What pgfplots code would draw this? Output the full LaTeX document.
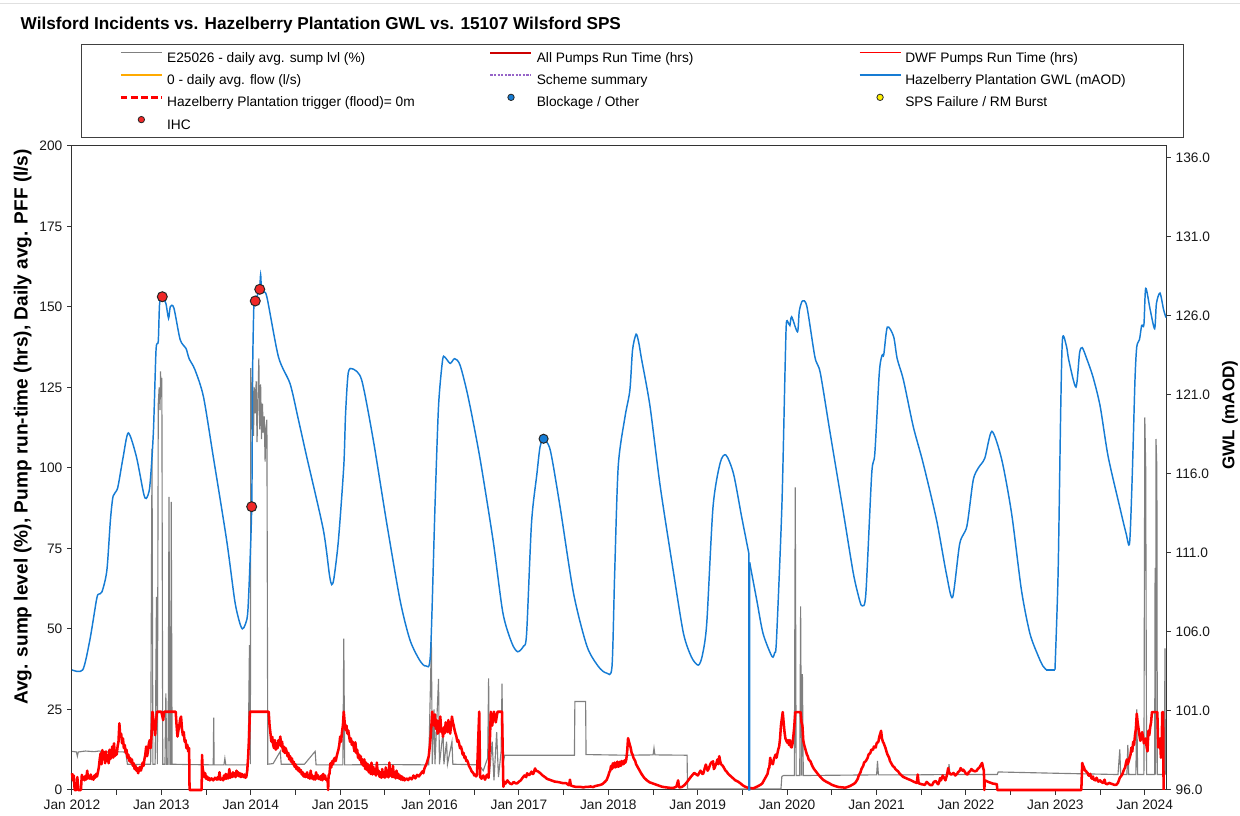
\documentclass[border=0pt]{standalone}
\usepackage{fontspec}
\setmainfont{Liberation Sans}
\usepackage{pgfplots}
\pgfplotsset{compat=1.18}

\definecolor{gwlblue}{RGB}{22,124,212}
\definecolor{sumpgrey}{RGB}{128,128,128}
\definecolor{pumpred}{RGB}{255,0,0}
\definecolor{allred}{RGB}{205,0,0}
\definecolor{floworange}{RGB}{255,170,0}
\definecolor{schemepurple}{RGB}{150,100,200}
\definecolor{ihcred}{RGB}{240,40,40}
\definecolor{spsyellow}{RGB}{255,240,0}

% legend samples: 41px line, 4px gap (1px = 0.75pt)
\pgfplotsset{
  lineleg/.style={legend image code/.code={%
      \draw[##1] (0pt,3.6pt) -- (30.75pt,3.6pt);
      \path (33.75pt,3.6pt);}},
  markleg/.style={legend image code/.code={%
      \path (0pt,3.6pt) (33.75pt,3.6pt);
      \draw[##1] plot coordinates {(15.4pt,3.6pt)};}},
  tlab/.style={font=\fontsize{10.3}{12}\selectfont},
}
\newcommand{\cola}[1]{\makebox[241.5pt][l]{#1}}
\newcommand{\colc}[1]{\makebox[180pt][l]{#1}}

\begin{document}
\begin{tikzpicture}
\path[use as bounding box] (-54pt,-19.5pt) rectangle (876pt,592.5pt);
\draw[black!12, line width=0.75pt] (-54pt,589.5pt) -- (876pt,589.5pt);

\begin{axis}[
  at={(0pt,0pt)}, anchor=south west,
  scale only axis, width=820.5pt, height=483pt,
  xmin=2012, xmax=2024.237, ymin=0, ymax=200,
  xtick={2012,...,2024},
  xticklabels={Jan 2012,Jan 2013,Jan 2014,Jan 2015,Jan 2016,Jan 2017,Jan 2018,Jan 2019,Jan 2020,Jan 2021,Jan 2022,Jan 2023,Jan 2024},
  minor xtick={2012.5,2013.5,...,2023.5},
  ytick={0,25,...,200},
  xtick pos=bottom, ytick pos=left,
  tick align=outside, major tick length=3.75pt, minor tick length=3.75pt,
  tick style={black!80, line width=0.75pt},
  axis line style={black!80, line width=0.75pt},
  tick label style={tlab, text=black!90},
  /pgf/number format/assume math mode=true,
  clip=false,
  legend columns=3,
  legend style={at={(0.00823,1.1584)}, anchor=north west,
    draw=black!75, line width=0.75pt, fill=white,
    inner xsep=28.5pt, inner ysep=1.5pt,
    font=\fontsize{10.3}{12}\selectfont,
    column sep=0pt, row sep=0pt,
    nodes={inner sep=0pt, text height=11.95pt, text depth=4.75pt}},
]
\addlegendimage{lineleg, sumpgrey, line width=0.75pt}
\addlegendentry{\cola{E25026 - daily avg. sump lvl (\%)}}
\addlegendimage{lineleg, allred, line width=1.9pt}
\addlegendentry{\cola{All Pumps Run Time (hrs)}}
\addlegendimage{lineleg, pumpred, line width=0.8pt}
\addlegendentry{\colc{DWF Pumps Run Time (hrs)}}
\addlegendimage{lineleg, floworange, line width=1.6pt}
\addlegendentry{\cola{0 - daily avg. flow (l/s)}}
\addlegendimage{lineleg, schemepurple, line width=2pt, dash pattern=on 1.6pt off 1.1pt}
\addlegendentry{\cola{Scheme summary}}
\addlegendimage{lineleg, gwlblue, line width=1.1pt}
\addlegendentry{\colc{Hazelberry Plantation GWL (mAOD)}}
\addlegendimage{lineleg, pumpred, line width=2pt, dash pattern=on 5pt off 2.6pt}
\addlegendentry{\cola{Hazelberry Plantation trigger (flood)= 0m}}
\addlegendimage{markleg, only marks, mark=*, mark size=2.4pt, mark options={fill=gwlblue, draw=black!85, line width=0.6pt}}
\addlegendentry{\cola{Blockage / Other}}
\addlegendimage{markleg, only marks, mark=*, mark size=2.4pt, mark options={fill=spsyellow, draw=black!85, line width=0.6pt}}
\addlegendentry{\colc{SPS Failure / RM Burst}}
\addlegendimage{markleg, only marks, mark=*, mark size=2.4pt, mark options={fill=ihcred, draw=black!85, line width=0.6pt}}
\addlegendentry{\cola{IHC}}

% E25026 daily avg. sump level (%)
\addplot[sumpgrey, line width=0.85pt, forget plot] coordinates {
(2012.00,12.0) (2012.05,11.8) (2012.06,10.5) (2012.07,11.8) (2012.15,12.1) (2012.25,11.9)
(2012.30,12.1) (2012.40,11.8) (2012.45,12.5) (2012.46,11.9) (2012.60,11.8) (2012.62,8.0)
(2012.70,7.9) (2012.80,8.0) (2012.88,8.0) (2012.895,106) (2012.905,8.0) (2012.93,8.0)
(2012.945,60) (2012.955,8.0) (2012.965,120) (2012.975,125) (2012.985,118) (2012.99,130)
(2013.00,122) (2013.005,128) (2013.015,8.0) (2013.04,8.0) (2013.05,30) (2013.06,8.0)
(2013.075,8.0) (2013.085,91) (2013.095,8.0) (2013.105,8.0) (2013.11,89.5) (2013.12,8.0)
(2013.30,7.9) (2013.58,7.8) (2013.585,22.5) (2013.59,7.8) (2013.70,7.8) (2013.71,9.8)
(2013.72,7.8) (2013.97,7.8) (2013.985,45) (2013.995,8.0) (2014.00,131) (2014.01,112)
(2014.02,127) (2014.03,110) (2014.04,125) (2014.05,117) (2014.06,127) (2014.07,108)
(2014.08,122) (2014.09,134) (2014.10,112) (2014.11,126) (2014.12,109) (2014.13,120)
(2014.14,111) (2014.15,116) (2014.16,102) (2014.17,113) (2014.18,115) (2014.19,8.0)
(2014.25,8.2) (2014.33,12.0) (2014.34,8.0) (2014.60,8.0) (2014.72,12.0) (2014.73,7.8)
(2015.03,7.8) (2015.04,47) (2015.05,7.8) (2015.50,7.9) (2015.99,7.8) (2016.02,46)
(2016.03,8.0) (2016.05,25) (2016.06,8.0) (2016.10,34.5) (2016.11,8.0) (2016.15,18)
(2016.16,8.0) (2016.19,15) (2016.20,8.0) (2016.25,15) (2016.26,8.0) (2016.55,7.8)
(2016.60,6.0) (2016.65,10) (2016.66,34.7) (2016.67,5.0) (2016.70,15) (2016.72,3.0)
(2016.75,18) (2016.77,4.0) (2016.80,12) (2016.81,33) (2016.82,8.0) (2016.84,10.8)
(2017.20,10.8) (2017.62,10.8) (2017.625,27.5) (2017.745,27.5) (2017.75,11.0) (2018.20,10.8)
(2018.50,10.9) (2018.51,13.0) (2018.52,10.9) (2018.88,10.8) (2018.885,0.3) (2019.93,0.3)
(2019.94,4.2) (2019.96,4.5) (2020.08,4.5) (2020.09,94) (2020.10,4.5) (2020.14,4.5)
(2020.15,57) (2020.16,4.5) (2020.17,36) (2020.18,4.5) (2020.60,4.6) (2021.00,4.7)
(2021.01,9.0) (2021.02,4.7) (2021.45,4.7) (2021.80,4.8) (2021.81,8.0) (2021.82,4.8)
(2022.35,4.8) (2022.36,5.6) (2023.00,5.2) (2023.70,4.8) (2023.72,12.6) (2023.73,4.8)
(2023.80,4.8) (2023.81,14.0) (2023.82,4.8) (2023.90,4.8) (2023.91,25) (2023.92,4.8)
(2023.99,4.8) (2024.00,115.7) (2024.01,100) (2024.02,4.8) (2024.11,4.8) (2024.115,69)
(2024.12,4.8) (2024.125,109) (2024.135,100) (2024.14,4.8) (2024.22,4.8) (2024.225,44)
(2024.23,4.8)
};

% All pumps run time (hrs)
\addplot[pumpred, line width=1.9pt, line join=round, forget plot] coordinates {
(2012.00,5.2) (2012.01,3.0) (2012.02,4.5) (2012.03,0) (2012.05,0) (2012.06,4.0) (2012.07,0)
(2012.10,0) (2012.11,4.7) (2012.12,3.2) (2012.13,4.0) (2012.14,3.0) (2012.15,4.4) (2012.16,3.3)
(2012.17,6.0) (2012.18,3.6) (2012.19,4.3) (2012.20,3.5) (2012.21,4.8) (2012.22,3.4) (2012.23,4.0)
(2012.24,3.2) (2012.25,4.5) (2012.26,3.8) (2012.27,5.0) (2012.28,4.2) (2012.29,5.5) (2012.30,7.0)
(2012.31,9.5) (2012.32,11.4) (2012.33,8.0) (2012.34,12.4) (2012.35,9.5) (2012.36,11.8) (2012.37,8.3)
(2012.38,12.0) (2012.39,9.0) (2012.40,10.5) (2012.41,8.3) (2012.42,12.5) (2012.43,9.6) (2012.44,11.0)
(2012.45,13.5) (2012.46,10.0) (2012.47,14.5) (2012.48,10.5) (2012.49,12.0) (2012.50,11.0) (2012.51,13.5)
(2012.52,15.0) (2012.53,20.7) (2012.54,16.5) (2012.55,17.5) (2012.56,14.5) (2012.57,16.0) (2012.58,13.0)
(2012.59,14.0) (2012.60,11.5) (2012.61,12.5) (2012.62,10.0) (2012.63,11.0) (2012.64,9.0) (2012.65,10.0)
(2012.66,8.5) (2012.67,9.5) (2012.68,7.5) (2012.69,8.3) (2012.70,6.5) (2012.71,7.5) (2012.72,6.0)
(2012.73,6.8) (2012.74,5.2) (2012.75,6.5) (2012.76,7.2) (2012.77,6.0) (2012.78,7.0) (2012.79,8.5)
(2012.80,7.5) (2012.81,9.5) (2012.82,11.0) (2012.83,13.5) (2012.84,10.5) (2012.85,12.0) (2012.86,14.5)
(2012.87,15.5) (2012.88,13.0) (2012.89,17.0) (2012.90,24.3) (2012.91,22.0) (2012.92,20.7) (2012.93,17.0)
(2012.94,21.0) (2012.95,24.3) (2013.00,24.3) (2013.02,21.7) (2013.03,24.3) (2013.16,24.3)
(2013.17,20.0) (2013.18,16.6) (2013.19,18.5) (2013.20,20.0) (2013.21,22.0) (2013.22,22.8) (2013.23,19.0)
(2013.24,17.0) (2013.25,18.0) (2013.26,15.0) (2013.27,15.5) (2013.28,13.0) (2013.29,14.0) (2013.30,12.0)
(2013.31,13.0) (2013.315,0) (2013.45,0) (2013.455,10.9) (2013.46,7.0) (2013.47,5.5) (2013.48,4.0)
(2013.49,5.2) (2013.50,3.5) (2013.51,4.2) (2013.52,3.2) (2013.53,3.8) (2013.54,3.0) (2013.56,3.6)
(2013.58,3.0) (2013.60,3.8) (2013.62,3.2) (2013.63,4.0) (2013.64,3.3) (2013.65,5.5) (2013.66,3.2)
(2013.68,3.6) (2013.69,3.0) (2013.70,4.5) (2013.71,3.4) (2013.72,5.0) (2013.73,3.5) (2013.74,4.8)
(2013.75,3.6) (2013.76,6.5) (2013.77,3.8) (2013.78,5.0) (2013.79,4.0) (2013.80,5.5) (2013.81,4.2)
(2013.82,5.2) (2013.83,4.0) (2013.84,6.0) (2013.85,4.5) (2013.86,5.5) (2013.87,4.2) (2013.88,5.2)
(2013.89,4.0) (2013.90,5.0) (2013.91,4.5) (2013.92,4.0) (2013.93,4.8) (2013.94,3.8) (2013.95,4.1)
(2013.96,6.0) (2013.97,10.0) (2013.98,16.0) (2013.99,24.3) (2014.20,24.3) (2014.21,20.0) (2014.22,17.6)
(2014.23,15.0) (2014.24,16.5) (2014.25,14.0) (2014.26,13.0) (2014.27,15.5) (2014.28,12.5) (2014.29,14.5)
(2014.30,13.0) (2014.31,15.5) (2014.32,14.0) (2014.33,16.6) (2014.34,13.5) (2014.35,15.0) (2014.36,12.0)
(2014.37,13.5) (2014.38,11.5) (2014.39,13.0) (2014.40,12.0) (2014.41,10.5) (2014.42,11.5) (2014.43,9.5)
(2014.44,10.5) (2014.45,8.8) (2014.46,9.8) (2014.47,8.0) (2014.48,8.8) (2014.49,7.2) (2014.50,8.0)
(2014.51,6.5) (2014.52,7.2) (2014.53,6.0) (2014.54,6.8) (2014.55,5.5) (2014.56,6.2) (2014.57,4.8)
(2014.58,5.5) (2014.59,4.2) (2014.60,5.0) (2014.61,4.0) (2014.62,4.6) (2014.63,5.5) (2014.64,3.8)
(2014.65,4.5) (2014.66,3.5) (2014.67,6.0) (2014.68,3.6) (2014.69,4.5) (2014.70,3.3) (2014.71,4.2)
(2014.72,3.2) (2014.73,5.5) (2014.74,3.6) (2014.75,4.6) (2014.76,3.4) (2014.77,4.1) (2014.78,3.2)
(2014.79,4.5) (2014.80,3.0) (2014.81,5.0) (2014.82,3.5) (2014.83,4.5) (2014.84,3.2) (2014.85,3.1)
(2014.86,2.8) (2014.865,0) (2014.87,4.5) (2014.88,5.0) (2014.89,8.3) (2014.90,7.0) (2014.91,9.0)
(2014.92,8.0) (2014.93,9.5) (2014.94,10.0) (2014.95,9.0) (2014.96,10.4) (2014.97,11.5) (2014.98,12.5)
(2014.99,14.0) (2015.00,16.6) (2015.01,15.0) (2015.02,18.0) (2015.03,20.0) (2015.04,24.3) (2015.05,21.0)
(2015.06,18.6) (2015.07,20.0) (2015.08,17.5) (2015.09,18.5) (2015.10,16.6) (2015.11,15.0) (2015.12,16.0)
(2015.13,14.0) (2015.14,15.0) (2015.15,13.5) (2015.16,12.0) (2015.17,14.8) (2015.18,11.5) (2015.19,12.5)
(2015.20,10.0) (2015.21,11.0) (2015.22,9.3) (2015.23,10.5) (2015.24,8.0) (2015.25,9.5) (2015.26,7.5)
(2015.27,9.5) (2015.28,6.5) (2015.29,8.5) (2015.30,6.2) (2015.31,8.0) (2015.32,5.5) (2015.33,7.5)
(2015.34,5.0) (2015.35,8.5) (2015.36,4.8) (2015.37,7.2) (2015.38,5.0) (2015.39,6.5) (2015.40,4.5)
(2015.41,8.5) (2015.42,5.0) (2015.43,6.0) (2015.44,4.1) (2015.45,5.5) (2015.46,3.8) (2015.47,6.5)
(2015.48,4.0) (2015.49,5.5) (2015.50,3.8) (2015.51,7.0) (2015.52,4.2) (2015.53,6.0) (2015.54,3.9)
(2015.55,8.5) (2015.56,4.5) (2015.57,6.2) (2015.58,4.0) (2015.59,7.5) (2015.60,4.0) (2015.61,5.5)
(2015.62,3.6) (2015.63,6.0) (2015.64,3.8) (2015.65,5.0) (2015.66,3.5) (2015.67,4.5) (2015.68,3.2)
(2015.69,4.2) (2015.70,3.1) (2015.71,3.8) (2015.72,3.0) (2015.74,3.6) (2015.76,3.1) (2015.78,3.8)
(2015.80,3.3) (2015.82,4.5) (2015.84,3.6) (2015.86,4.7) (2015.88,4.2) (2015.90,5.0) (2015.92,5.8)
(2015.93,5.2) (2015.94,6.5) (2015.95,7.2) (2015.96,7.8) (2015.97,8.5) (2015.98,9.5) (2015.99,10.4)
(2016.00,13.0) (2016.01,16.0) (2016.02,20.0) (2016.03,24.3) (2016.04,21.0) (2016.05,20.0) (2016.06,23.5)
(2016.07,19.0) (2016.08,21.7) (2016.09,17.5) (2016.10,18.0) (2016.11,21.0) (2016.12,22.8) (2016.13,18.0)
(2016.14,19.0) (2016.15,16.5) (2016.16,19.5) (2016.17,17.6) (2016.18,21.0) (2016.19,20.5) (2016.20,18.0)
(2016.21,21.7) (2016.22,19.0) (2016.23,17.5) (2016.24,20.0) (2016.25,22.8) (2016.26,21.0) (2016.27,20.0)
(2016.28,18.5) (2016.29,17.5) (2016.30,16.6) (2016.31,15.0) (2016.32,15.5) (2016.33,14.5) (2016.34,13.0)
(2016.35,13.5) (2016.36,12.5) (2016.37,11.0) (2016.38,11.5) (2016.39,10.0) (2016.40,10.4) (2016.41,9.0)
(2016.42,9.2) (2016.43,8.5) (2016.44,7.5) (2016.45,7.0) (2016.46,6.5) (2016.47,5.8) (2016.48,5.5)
(2016.49,5.2) (2016.50,4.5) (2016.51,4.8) (2016.52,4.2) (2016.53,4.7) (2016.555,24.3) (2016.565,4.1)
(2016.58,3.5) (2016.60,4.5) (2016.62,3.2) (2016.64,4.7) (2016.66,3.8) (2016.685,24.3) (2016.70,20.0)
(2016.72,24.3) (2016.74,21.0) (2016.76,24.3) (2016.81,24.3) (2016.825,1.0) (2016.84,2.5) (2016.85,2.0)
(2016.87,3.0) (2016.88,2.6) (2016.90,2.0) (2016.92,1.8) (2016.94,2.5) (2016.95,2.3) (2016.97,2.0)
(2016.98,2.1) (2017.00,2.6) (2017.02,3.0) (2017.04,3.8) (2017.06,4.5) (2017.08,4.0) (2017.09,5.2)
(2017.11,4.6) (2017.12,4.8) (2017.14,5.7) (2017.15,5.0) (2017.16,5.0) (2017.18,6.7) (2017.19,6.0)
(2017.21,5.8) (2017.23,5.4) (2017.24,5.2) (2017.26,4.6) (2017.28,4.2) (2017.30,3.8) (2017.31,3.5)
(2017.33,3.3) (2017.35,3.1) (2017.38,2.8) (2017.40,2.6) (2017.43,2.5) (2017.45,2.4) (2017.48,2.2)
(2017.50,2.1) (2017.53,2.1) (2017.55,1.6) (2017.56,1.5) (2017.57,3.2) (2017.58,1.4) (2017.60,1.2)
(2017.63,1.0) (2017.65,1.0) (2017.68,1.0) (2017.70,0.9) (2017.72,0.8) (2017.75,1.0) (2017.78,1.0)
(2017.80,1.1) (2017.83,0.9) (2017.85,1.2) (2017.88,1.4) (2017.90,1.5) (2017.91,1.6) (2017.93,1.8)
(2017.94,2.0) (2017.96,2.5) (2017.98,3.1) (2018.00,4.5) (2018.01,5.5) (2018.02,6.0) (2018.03,7.5)
(2018.04,6.5) (2018.05,8.3) (2018.06,7.0) (2018.07,8.5) (2018.08,7.0) (2018.09,8.0) (2018.10,8.8)
(2018.11,7.2) (2018.12,7.5) (2018.13,8.8) (2018.14,7.5) (2018.15,9.0) (2018.16,8.0) (2018.17,8.0)
(2018.18,9.2) (2018.19,8.5) (2018.20,9.5) (2018.21,12.0) (2018.22,16.1) (2018.23,15.0) (2018.24,14.0)
(2018.25,13.0) (2018.26,11.5) (2018.27,11.0) (2018.28,10.0) (2018.30,9.0) (2018.31,8.0) (2018.33,7.0)
(2018.34,6.5) (2018.36,5.5) (2018.37,5.0) (2018.40,3.8) (2018.43,3.0) (2018.46,2.4) (2018.49,2.1)
(2018.52,1.8) (2018.55,1.5) (2018.60,1.0) (2018.65,0.8) (2018.68,0.7) (2018.72,0.6) (2018.76,1.0)
(2018.78,3.0) (2018.79,0.8) (2018.82,0.9) (2018.85,1.5) (2018.88,2.5) (2018.92,4.0) (2018.96,5.3)
(2019.00,4.5) (2019.02,5.5) (2019.03,6.0) (2019.05,5.0) (2019.06,5.0) (2019.08,7.0) (2019.09,7.9)
(2019.11,6.0) (2019.12,6.5) (2019.14,8.0) (2019.15,8.5) (2019.17,8.9) (2019.18,6.5) (2019.19,7.0)
(2019.21,8.5) (2019.22,9.5) (2019.23,8.0) (2019.24,10.5) (2019.25,9.0) (2019.26,8.0) (2019.28,7.5)
(2019.29,7.0) (2019.31,6.0) (2019.32,5.8) (2019.34,5.0) (2019.36,4.5) (2019.38,4.0) (2019.40,3.5)
(2019.42,3.0) (2019.45,2.6) (2019.48,2.0) (2019.50,1.5) (2019.53,1.0) (2019.56,0.7) (2019.59,0.6)
(2019.62,0.5) (2019.66,1.0) (2019.68,1.3) (2019.70,1.6) (2019.72,2.0) (2019.73,2.5) (2019.75,3.5)
(2019.76,4.0) (2019.78,5.0) (2019.79,6.5) (2019.80,7.0) (2019.81,10.0) (2019.82,8.5) (2019.84,8.0)
(2019.85,9.5) (2019.87,11.0) (2019.88,10.0) (2019.90,12.6) (2019.91,13.5) (2019.92,16.0) (2019.93,20.0)
(2019.95,24.2) (2019.96,21.0) (2019.97,18.0) (2019.98,16.0) (2020.00,14.7) (2020.01,15.5) (2020.02,14.0)
(2020.03,15.5) (2020.04,13.5) (2020.05,13.2) (2020.06,14.5) (2020.07,17.0) (2020.08,20.0) (2020.09,24.2)
(2020.15,24.2) (2020.16,21.0) (2020.17,20.0) (2020.18,15.3) (2020.19,14.0) (2020.20,13.0) (2020.21,12.0)
(2020.22,11.0) (2020.23,10.5) (2020.24,9.5) (2020.26,8.9) (2020.28,7.5) (2020.30,6.5) (2020.32,5.8)
(2020.35,4.7) (2020.38,3.8) (2020.40,3.2) (2020.44,2.5) (2020.47,2.1) (2020.50,1.6) (2020.52,1.4)
(2020.55,1.1) (2020.58,0.9) (2020.62,0.8) (2020.65,0.7) (2020.68,1.0) (2020.70,1.2) (2020.72,1.5)
(2020.74,1.8) (2020.76,2.2) (2020.77,2.6) (2020.79,3.5) (2020.80,4.5) (2020.82,5.5) (2020.83,6.5)
(2020.85,7.5) (2020.86,8.5) (2020.88,9.0) (2020.90,10.0) (2020.91,11.0) (2020.93,11.5) (2020.94,12.5)
(2020.96,12.5) (2020.97,13.5) (2020.99,13.2) (2021.00,14.5) (2021.02,15.0) (2021.03,16.5) (2021.05,18.4)
(2021.06,16.0) (2021.07,15.0) (2021.08,14.5) (2021.10,13.0) (2021.11,12.0) (2021.12,11.1) (2021.14,10.0)
(2021.15,9.0) (2021.17,8.0) (2021.18,7.5) (2021.20,7.0) (2021.21,6.5) (2021.23,6.0) (2021.24,5.8)
(2021.26,5.0) (2021.28,4.5) (2021.30,4.0) (2021.32,3.8) (2021.35,3.4) (2021.37,3.2) (2021.40,2.8)
(2021.42,2.5) (2021.45,2.2) (2021.46,4.8) (2021.47,2.1) (2021.50,1.8) (2021.54,1.6) (2021.56,2.5)
(2021.58,2.0) (2021.60,1.5) (2021.62,1.5) (2021.64,2.5) (2021.66,2.8) (2021.68,2.0) (2021.69,1.8)
(2021.70,2.5) (2021.71,3.7) (2021.72,3.0) (2021.74,4.5) (2021.76,3.5) (2021.77,3.0) (2021.79,5.0)
(2021.80,6.8) (2021.81,5.5) (2021.83,4.8) (2021.85,5.0) (2021.86,5.3) (2021.88,4.5) (2021.90,5.0)
(2021.91,5.5) (2021.93,6.0) (2021.94,6.8) (2021.96,6.0) (2021.97,6.3) (2021.99,5.5) (2022.00,5.0)
(2022.02,4.8) (2022.03,5.5) (2022.05,6.0) (2022.06,6.5) (2022.08,6.0) (2022.10,5.8) (2022.12,6.0)
(2022.13,6.5) (2022.15,7.0) (2022.16,7.5) (2022.18,8.4) (2022.19,7.0) (2022.20,6.0) (2022.205,0)
(2022.21,3.0) (2022.25,2.5) (2022.30,2.0) (2022.345,1.8) (2022.35,0) (2023.29,0) (2023.30,8.4)
(2023.31,7.5) (2023.32,7.0) (2023.33,6.0) (2023.34,6.0) (2023.35,5.5) (2023.36,5.3) (2023.37,4.5)
(2023.38,4.5) (2023.39,5.0) (2023.40,3.8) (2023.41,3.5) (2023.42,4.2) (2023.43,3.2) (2023.45,3.0)
(2023.46,3.8) (2023.48,2.6) (2023.50,3.0) (2023.51,2.6) (2023.53,2.2) (2023.55,3.2) (2023.56,2.0)
(2023.58,1.8) (2023.60,2.2) (2023.62,2.0) (2023.64,1.8) (2023.66,1.6) (2023.68,1.6) (2023.70,2.2)
(2023.71,3.0) (2023.72,3.8) (2023.74,4.5) (2023.75,5.0) (2023.76,5.8) (2023.77,6.5) (2023.78,7.0)
(2023.79,8.5) (2023.80,9.5) (2023.81,8.0) (2023.82,9.0) (2023.83,10.0) (2023.84,11.0) (2023.85,13.2)
(2023.86,12.0) (2023.87,15.0) (2023.88,14.0) (2023.89,17.0) (2023.90,19.0) (2023.91,23.7) (2023.92,21.0)
(2023.93,19.0) (2023.94,17.0) (2023.95,15.3) (2023.96,16.0) (2023.97,18.0) (2023.98,16.5) (2023.99,14.5)
(2024.00,15.0) (2024.01,16.0) (2024.02,13.5) (2024.03,12.0) (2024.04,18.4) (2024.05,17.0) (2024.06,19.5)
(2024.07,21.0) (2024.08,24.2) (2024.14,24.2) (2024.15,13.2) (2024.16,14.0) (2024.17,16.0) (2024.18,10.0)
(2024.19,16.0) (2024.195,24.2) (2024.205,24.2) (2024.21,0)
};
\end{axis}

\begin{axis}[
  at={(0pt,0pt)}, anchor=south west,
  scale only axis, width=820.5pt, height=483pt,
  xmin=2012, xmax=2024.237, ymin=96, ymax=136.76,
  axis x line=none, axis y line*=right,
  ytick={96,101,...,136},
  tick align=outside, major tick length=3.75pt,
  tick style={black!80, line width=0.75pt},
  axis line style={black!80, line width=0.75pt},
  tick label style={tlab, text=black!90},
  /pgf/number format/assume math mode=true,
  yticklabel style={/pgf/number format/.cd, fixed, fixed zerofill, precision=1},
  clip=false,
]
% Hazelberry Plantation GWL (mAOD), before the logger drop-out
\addplot[gwlblue, line width=1.1pt, smooth, tension=0.45] coordinates {
(2012.00,103.6) (2012.12,103.6) (2012.20,105.5) (2012.276,108.1) (2012.30,108.4) (2012.336,108.55)
(2012.39,109.9) (2012.43,113.1) (2012.46,114.6) (2012.51,115.1) (2012.57,117.0) (2012.63,118.6)
(2012.72,117.1) (2012.80,114.8) (2012.83,114.45) (2012.87,115.2) (2012.91,118.6) (2012.94,123.85)
(2012.965,124.4) (2012.98,126.8) (2013.01,127.2) (2013.05,126.8) (2013.08,125.85) (2013.10,126.6)
(2013.14,126.5) (2013.21,124.5) (2013.275,123.95) (2013.31,123.3) (2013.375,122.6) (2013.47,120.9)
(2013.58,117.1) (2013.73,111.8) (2013.82,108.0) (2013.87,106.7) (2013.905,106.2) (2013.94,106.5)
(2013.97,107.6) (2014.01,113.9) (2014.02,122.4) (2014.035,126.8) (2014.05,127.0) (2014.08,127.4)
(2014.10,127.8) (2014.11,128.6) (2014.12,127.65) (2014.14,127.5) (2014.18,127.2) (2014.31,123.4)
(2014.44,121.7) (2014.53,119.5) (2014.625,117.1) (2014.81,112.5) (2014.88,109.6) (2014.905,109.0)
(2014.93,109.4) (2014.98,111.8) (2015.04,116.5) (2015.06,119.8) (2015.09,122.4) (2015.14,122.65)
(2015.24,121.95) (2015.37,118.15) (2015.52,112.9) (2015.67,108.0) (2015.78,105.5) (2015.89,104.2)
(2015.96,103.85) (2016.01,104.65) (2016.06,113.9) (2016.10,120.3) (2016.145,123.2) (2016.17,123.4)
(2016.23,123.0) (2016.28,123.3) (2016.34,122.9) (2016.43,120.9) (2016.56,117.1) (2016.71,111.8)
(2016.82,107.2) (2016.92,105.3) (2016.985,104.75) (2017.05,105.1) (2017.085,105.9) (2017.14,112.9)
(2017.20,116.0) (2017.235,117.7) (2017.275,118.2) (2017.35,117.5) (2017.46,113.9) (2017.61,108.45)
(2017.76,105.1) (2017.89,103.8) (2017.98,103.4) (2018.04,103.8) (2018.07,109.7) (2018.11,116.5)
(2018.185,119.6) (2018.24,121.3) (2018.27,123.85) (2018.31,124.85) (2018.34,124.3) (2018.37,123.3)
(2018.465,120.3) (2018.58,115.2) (2018.73,109.7) (2018.84,105.9) (2018.93,104.4) (2019.005,103.9)
(2019.05,104.5) (2019.10,106.55) (2019.17,113.9) (2019.25,116.7) (2019.315,117.2) (2019.40,116.0)
(2019.49,113.3) (2019.57,111.0)
};
% drop-out to the bottom of the axis
\addplot[gwlblue, line width=1.1pt] coordinates {
(2019.57,111.0) (2019.571,96.0) (2019.58,96.0) (2019.581,110.4)
};
% after the drop-out
\addplot[gwlblue, line width=1.1pt, smooth, tension=0.45] coordinates {
(2019.581,110.4) (2019.59,110.1)
(2019.66,108.0) (2019.73,105.9) (2019.83,104.45) (2019.86,104.7) (2019.88,105.5) (2019.94,113.9)
(2019.975,122.4) (2019.99,125.5) (2020.01,125.6) (2020.03,125.4) (2020.05,125.95) (2020.115,125.0)
(2020.135,126.3) (2020.17,126.95) (2020.22,126.6) (2020.31,123.4) (2020.37,122.4) (2020.48,118.6)
(2020.63,113.5) (2020.74,109.7) (2020.81,108.0) (2020.84,107.65) (2020.88,108.45) (2020.945,116.0)
(2020.98,117.3) (2021.03,122.4) (2021.06,123.5) (2021.08,123.55) (2021.12,125.3) (2021.19,124.7)
(2021.23,123.3) (2021.30,121.95) (2021.41,119.0) (2021.52,116.7) (2021.67,113.1) (2021.78,109.7)
(2021.85,108.2) (2021.93,111.6) (2022.01,112.7) (2022.08,115.6) (2022.14,116.4) (2022.21,117.0)
(2022.29,118.7) (2022.40,116.9) (2022.51,113.5) (2022.62,108.65) (2022.715,105.9) (2022.81,104.45)
(2022.86,103.85) (2022.90,103.6)
};
\addplot[gwlblue, line width=1.1pt] coordinates {(2022.90,103.6) (2022.995,103.6)};
\addplot[gwlblue, line width=1.1pt, smooth, tension=0.45] coordinates {
(2022.995,103.6) (2023.03,109.7) (2023.06,120.3) (2023.08,124.6) (2023.125,124.05)
(2023.15,123.2) (2023.23,121.5) (2023.27,123.65) (2023.30,124.0) (2023.35,123.3) (2023.42,122.15)
(2023.50,120.3) (2023.59,117.1) (2023.72,113.9) (2023.79,112.25) (2023.83,111.65) (2023.86,116.0)
(2023.89,121.95) (2023.91,124.05) (2023.94,124.5) (2023.965,125.4) (2023.99,125.45) (2024.01,127.75)
(2024.06,126.4) (2024.11,125.2) (2024.13,126.8) (2024.17,127.45) (2024.21,126.4) (2024.237,125.9)
};
% IHC incidents
\addplot[only marks, mark=*, mark size=3.75pt, mark options={fill=ihcred, draw=black!85, line width=0.75pt}]
  coordinates {(2013.01,127.22) (2014.01,113.93) (2014.05,126.95) (2014.10,127.69)};
% Blockage / Other
\addplot[only marks, mark=*, mark size=3.4pt, mark options={fill=gwlblue, draw=black!85, line width=0.75pt}]
  coordinates {(2017.275,118.23)};
\end{axis}

\node[anchor=base west, font=\fontsize{12.9}{15}\selectfont\bfseries] at (-42pt,570.5pt)
  {Wilsford Incidents vs. Hazelberry Plantation GWL vs. 15107 Wilsford SPS};
\node[rotate=90, font=\fontsize{14.3}{16}\selectfont\bfseries] at (-37pt,272.25pt)
  {Avg. sump level (\%), Pump run-time (hrs), Daily avg. PFF (l/s)};
\node[rotate=90, font=\fontsize{12.75}{15}\selectfont\bfseries] at (868.5pt,281.25pt)
  {GWL (mAOD)};
\end{tikzpicture}
\end{document}
